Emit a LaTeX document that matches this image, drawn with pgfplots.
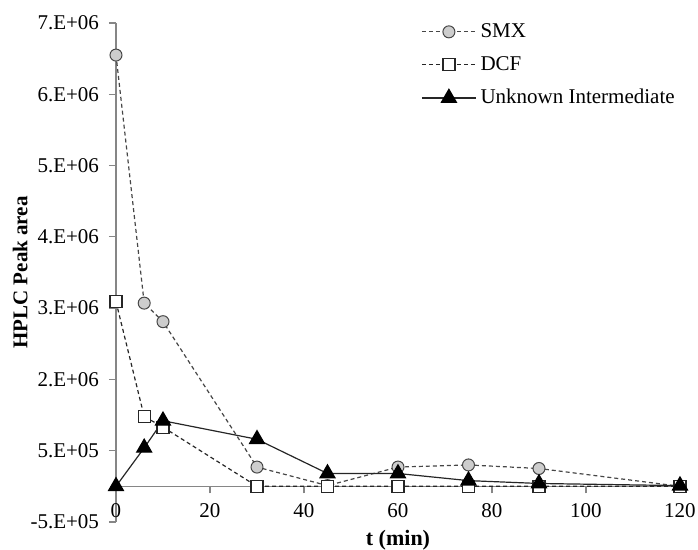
\documentclass[border=0pt]{standalone}
\usepackage{fontspec}
\setmainfont{Liberation Serif}
\usepackage{pgfplots}
\pgfplotsset{compat=1.18}
\definecolor{axgray}{RGB}{134,134,134}
\definecolor{smxfill}{RGB}{205,205,205}
\definecolor{linegray}{RGB}{70,70,70}
\begin{document}
\begin{tikzpicture}
\begin{axis}[
  name=ax,
  scale only axis, width=282pt, height=249.5pt,
  xmin=0, xmax=120, ymin=-5e5, ymax=6.5e6,
  axis x line=middle, axis y line=left,
  axis line style={axgray, line width=0.6pt, -},
  hide obscured x ticks=false,
  xtick={0,20,...,120},
  ytick={-5e5,5e5,1.5e6,2.5e6,3.5e6,4.5e6,5.5e6,6.5e6},
  yticklabels={-5.E+05,5.E+05,2.E+06,3.E+06,4.E+06,5.E+06,6.E+06,7.E+06},
  scaled y ticks=false,
  tick align=outside,
  major tick length=3.5pt,
  tick style={axgray, line width=0.6pt},
  ticklabel style={font=\fontsize{10.5}{12.5}\selectfont},
  /pgf/number format/assume math mode=true,
  xticklabel style={anchor=north, yshift=-1.5pt},
  yticklabel style={xshift=-1.5pt},
  xlabel={\textbf{t (min)}},
  ylabel={\textbf{HPLC Peak area}},
  xlabel style={at={(axis description cs:0.5,-0.036)}, anchor=center, font=\fontsize{11}{13}\selectfont},
  ylabel style={at={(axis description cs:-0.170,0.5)}, anchor=center, rotate=0, font=\fontsize{10.5}{12}\selectfont},
  clip=false,
  legend style={at={(axis description cs:0.53,1.016)}, anchor=north west, draw=none, fill=none,
    font=\fontsize{10.5}{12}\selectfont, row sep=4pt},
  legend cell align=left,
  legend image code/.code={\draw[mark repeat=2,mark phase=2] plot coordinates {(0pt,0pt) (13.5pt,0pt) (27pt,0pt)};},
]
\addplot[linegray, line width=0.6pt, dash pattern=on 2pt off 1.5pt, mark=*, mark size=3pt,
  mark options={solid, fill=smxfill, draw=linegray, line width=0.5pt}]
  coordinates {(0,6.05e6)(6,2.57e6)(10,2.31e6)(30,0.27e6)(45,0.01e6)(60,0.27e6)(75,0.30e6)(90,0.25e6)(120,0.0)};
\addlegendentry{SMX}
\addplot[black!85, line width=0.6pt, dash pattern=on 2pt off 1.5pt, mark=square*, mark size=3pt,
  mark options={solid, fill=white, draw=black!85, line width=0.6pt}]
  coordinates {(0,2.59e6)(6,0.98e6)(10,0.83e6)(30,0)(45,0)(60,0)(75,0)(90,0)(120,0)};
\addlegendentry{DCF}
\addplot[black!85, line width=0.6pt, solid, mark=triangle*, mark size=4.3pt,
  mark options={solid, fill=black, draw=black}]
  coordinates {(0,0)(6,0.54e6)(10,0.92e6)(30,0.66e6)(45,0.18e6)(60,0.18e6)(75,0.08e6)(90,0.04e6)(120,0.01e6)};
\addlegendentry{Unknown Intermediate}
\end{axis}
\pgfresetboundingbox
\path ([xshift=-58pt,yshift=-14pt]ax.south west) rectangle ([xshift=9pt,yshift=11.5pt]ax.north east);
\end{tikzpicture}
\end{document}
